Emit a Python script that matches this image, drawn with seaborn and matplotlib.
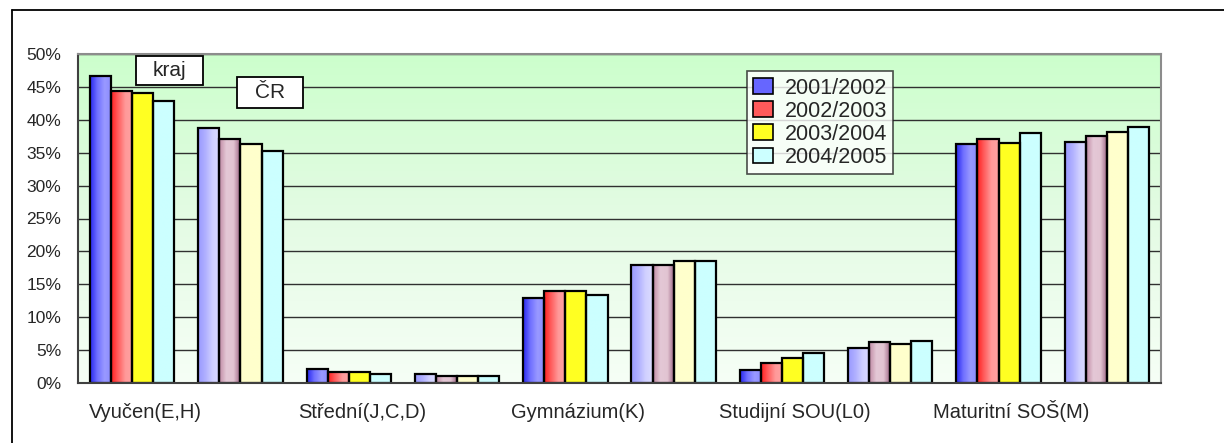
import numpy as np
import pandas as pd
import matplotlib.pyplot as plt
import seaborn as sns
from matplotlib.colors import LinearSegmentedColormap
from matplotlib.patches import Patch, Rectangle
from matplotlib.lines import Line2D
from matplotlib.ticker import PercentFormatter

sns.set_style("white")
plt.rcParams['font.family'] = ['Liberation Sans', 'DejaVu Sans']

# data (percent)
categories = ['Vyučen(E,H)', 'Střední(J,C,D)', 'Gymnázium(K)', 'Studijní SOU(L0)', 'Maturitní SOŠ(M)']
years = ['2001/2002', '2002/2003', '2003/2004', '2004/2005']
kraj = [
    [46.7, 44.4, 44.1, 42.9],
    [2.2, 1.6, 1.7, 1.4],
    [12.9, 14.0, 14.0, 13.3],
    [1.9, 3.1, 3.75, 4.5],
    [36.3, 37.1, 36.5, 38.0],
]
cr = [
    [38.7, 37.1, 36.3, 35.3],
    [1.3, 1.0, 1.0, 1.0],
    [17.9, 17.9, 18.5, 18.5],
    [5.3, 6.2, 5.9, 6.4],
    [36.7, 37.5, 38.2, 38.9],
]

# each category has a "kraj" slot and a "ČR" slot
slots = []
rows = []
for i, cat in enumerate(categories):
    for grp, vals in (('kraj', kraj[i]), ('ČR', cr[i])):
        slot = cat + ' ' + grp
        slots.append(slot)
        for y, v in zip(years, vals):
            rows.append({'slot': slot, 'year': y, 'value': v})
df = pd.DataFrame(rows)

# horizontal gradients of the bars
kraj_grad = [['#2828f0', '#7070ff', '#9999ff', '#8c8cff'],
             ['#ff2020', '#ff6060', '#ff9a9a', '#ffa0a0'],
             ['#ffff22', '#ffff22', '#ffff22', '#ffff22'],
             ['#ccffff', '#ccffff', '#ccffff', '#ccffff']]
cr_grad = [['#9999ff', '#b0b0ff', '#d0d0ff', '#dcdcff'],
           ['#c08aa4', '#e4c8d6', '#e2c4d2', '#9a6080'],
           ['#ffffcc', '#ffffcc', '#ffffcc', '#ffffcc'],
           ['#ccffff', '#ccffff', '#ccffff', '#ccffff']]
legend_colors = ['#6666ff', '#ff5a5a', '#ffff22', '#ccffff']

W, H = 1224, 443
fig, ax = plt.subplots(figsize=(W / 100, H / 100), dpi=100)
fig.subplots_adjust(left=78 / W, right=1161 / W, top=1 - 54 / H, bottom=1 - 383 / H)

sns.barplot(data=df, x='slot', y='value', hue='year', order=slots, hue_order=years,
            width=0.78, ax=ax, legend=False, edgecolor='black', linewidth=1.6,
            err_kws={'linewidth': 0})

for h, cont in enumerate(ax.containers):
    for j, bar in enumerate(cont.patches):
        cols = kraj_grad[h] if j % 2 == 0 else cr_grad[h]
        cmap = LinearSegmentedColormap.from_list('g', cols)
        x0 = bar.get_x()
        w = bar.get_width()
        hgt = bar.get_height()
        grad = np.linspace(0, 1, 64).reshape(1, -1)
        ax.imshow(grad, cmap=cmap, extent=[x0, x0 + w, 0, hgt], aspect='auto',
                  origin='lower', zorder=2.5, interpolation='bilinear')
        bar.set_facecolor('none')
        bar.set_zorder(3)

# background gradient of the plot area
bg = LinearSegmentedColormap.from_list('bg', ['#f6fff6', '#e4fbe4', '#ccffcc'])
ax.imshow(np.linspace(0, 1, 256).reshape(-1, 1), cmap=bg, extent=[0, 1, 0, 1],
          transform=ax.transAxes, aspect='auto', origin='lower', zorder=0)

ax.set_xlim(-0.5, len(slots) - 0.5)
ax.set_ylim(0, 50)
ax.set_yticks(np.arange(0, 51, 5))
ax.yaxis.set_major_formatter(PercentFormatter(decimals=0))
ax.grid(axis='y', color='#303030', linewidth=1.0, zorder=1)
ax.set_axisbelow(True)
for gl in ax.get_ygridlines():
    gl.set_zorder(1)

ax.set_xticks(np.arange(0, len(slots), 2) + 0.12)
ax.set_xticklabels(categories, fontsize=14.5)
for lab in ax.get_xticklabels():
    lab.set_verticalalignment('baseline')
ax.set_xticks(np.arange(-0.5, len(slots), 1), minor=True)
ax.tick_params(axis='x', which='major', length=0, pad=25)
ax.tick_params(axis='x', which='minor', length=6, width=1, color='#404040', direction='out')
ax.tick_params(axis='y', length=6, width=1, color='#404040', direction='out', labelsize=12.5, pad=6)
ax.set_xlabel('')
ax.set_ylabel('')

ax.spines['left'].set_color('#404040')
ax.spines['bottom'].set_color('#404040')
ax.spines['top'].set_color('#8c8c8c')
ax.spines['right'].set_color('#8c8c8c')
for s in ax.spines.values():
    s.set_linewidth(1.5)
    s.set_zorder(4)

handles = [Patch(facecolor=c, edgecolor='black', linewidth=1.2) for c in legend_colors]
leg = ax.legend(handles, years, loc='upper left', bbox_to_anchor=(0.6175, 0.948),
                fontsize=15.5, frameon=True, fancybox=False, edgecolor='#202020',
                handlelength=0.9, handleheight=0.75, handletextpad=0.55,
                labelspacing=0.1, borderpad=0.3, borderaxespad=0)
leg.get_frame().set_linewidth(1.2)
leg.set_zorder(5)

# "kraj" and "ČR" text boxes
for label, (x0, y0, x1, y1) in (('kraj', (136, 56, 203, 85)), ('ČR', (237, 77, 303, 108))):
    fig.add_artist(Rectangle((x0 / W, 1 - y1 / H), (x1 - x0) / W, (y1 - y0) / H,
                             facecolor='white', edgecolor='black', linewidth=1.3,
                             transform=fig.transFigure, zorder=6))
    fig.text((x0 + x1) / 2 / W, 1 - (y0 + y1) / 2 / H, label, fontsize=15,
             ha='center', va='center', zorder=7)

# outer chart border (left and top edges visible)
fig.add_artist(Line2D([11.5 / W, 11.5 / W], [0, 1 - 10 / H], color='black', linewidth=1.3))
fig.add_artist(Line2D([11.5 / W, 1], [1 - 10 / H, 1 - 10 / H], color='black', linewidth=1.3))

fig.savefig('out.png', dpi=100)
